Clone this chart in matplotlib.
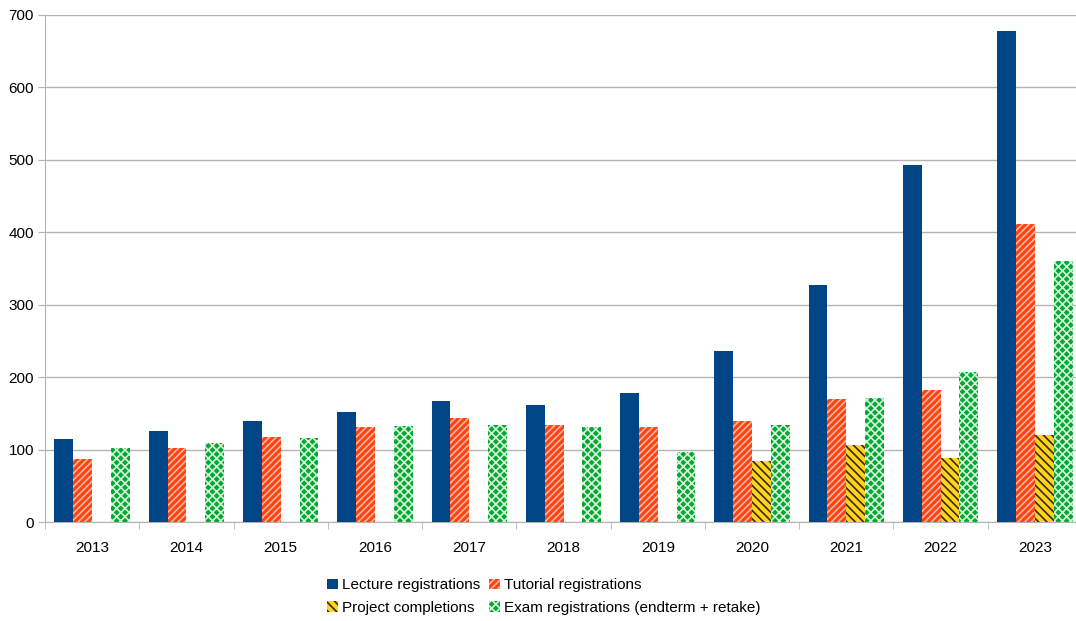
import matplotlib
matplotlib.use("Agg")
import matplotlib.pyplot as plt
import numpy as np

plt.rcParams['font.family'] = ['Liberation Sans', 'DejaVu Sans']
plt.rcParams['hatch.linewidth'] = 1.2

years = ["2013", "2014", "2015", "2016", "2017", "2018", "2019", "2020", "2021", "2022", "2023"]
lecture = [115, 126, 139, 152, 167, 162, 178, 236, 327, 493, 678]
tutorial = [87, 102, 117, 131, 144, 134, 131, 139, 170, 182, 411]
project = [0, 0, 0, 0, 0, 0, 0, 84, 106, 88, 120]
exam = [102, 109, 116, 132, 134, 131, 97, 134, 171, 207, 360]

labels = ["Lecture registrations", "Tutorial registrations",
          "Project completions", "Exam registrations (endterm + retake)"]

fig = plt.figure(figsize=(10.76, 6.21), dpi=100)
ax = fig.add_axes([45 / 1076, 1 - 522 / 621, 1037 / 1076, 507 / 621])

x = np.arange(len(years))
w = 0.2
series = [
    (lecture, "#004586", None, "#004586"),
    (tutorial, "#ff420e", "/////", "#ffb8a8"),
    (project, "#ffd320", "\\\\\\\\", "#3a2a00"),
    (exam, "#00a933", "xxxx", "#d8f0d8"),
]
bars = []
for i, (vals, fc, hatch, hc) in enumerate(series):
    b = ax.bar(x - 0.3 + i * w, vals, width=w, color=fc, hatch=hatch,
               edgecolor=hc, linewidth=0, label=labels[i], zorder=3)
    bars.append(b)

ax.set_xlim(-0.5, len(years) - 0.5)
ax.set_ylim(0, 700)
ax.set_yticks(range(0, 701, 100))
ax.set_xticks(x)
ax.set_xticklabels(years)
ax.set_xticks(np.arange(-0.5, len(years)), minor=True)
ax.tick_params(axis='x', which='major', length=0, pad=14, labelsize=11)
ax.tick_params(axis='x', which='minor', length=5, color='#b3b3b3')
ax.tick_params(axis='y', length=5, color='#b3b3b3', labelsize=11, pad=3)
ax.grid(axis='y', color='#b3b3b3', linewidth=1, zorder=0)
for s in ['top', 'right']:
    ax.spines[s].set_visible(False)
for s in ['left', 'bottom']:
    ax.spines[s].set_color('#b3b3b3')

# row-major order like the original: Lecture, Tutorial / Project, Exam
order = [0, 2, 1, 3]
fig.legend([bars[i] for i in order], [labels[i] for i in order],
           loc='lower left', bbox_to_anchor=(321 / 1076, 0.0), ncol=2, frameon=False,
           fontsize=11, handlelength=0.7, handleheight=0.7, handletextpad=0.3,
           columnspacing=0.55, labelspacing=0.55, borderaxespad=0.0)

fig.savefig("out.png", dpi=100)
